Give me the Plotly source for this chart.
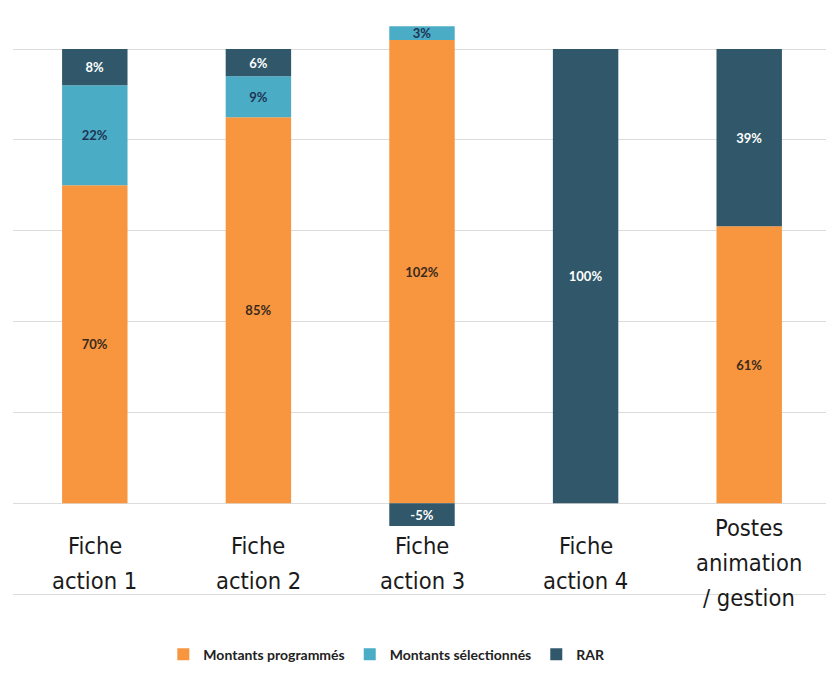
import plotly.graph_objects as go

categories = [["Fiche", "action 1"], ["Fiche", "action 2"], ["Fiche", "action 3"],
              ["Fiche", "action 4"], ["Postes", "animation", "/ gestion"]]
programmes = [70, 85, 102, 0, 61]
selectionnes = [22, 9, 3, 0, 0]
rar = [8, 6, -5, 100, 39]
gridvals = [-20, 0, 20, 40, 60, 80, 100]

series = [
    ("Montants programmés", programmes, "#F7963F", "#3a2a1e"),
    ("Montants sélectionnés", selectionnes, "#4BACC6", "#1e3552"),
    ("RAR", rar, "#30586A", "#ffffff"),
]

fig = go.Figure()
for name, vals, color, tcolor in series:
    fig.add_trace(go.Bar(
        x=list(range(len(categories))), y=vals, name=name,
        marker=dict(color=color, line=dict(width=0)),
        text=[f"{v}%" if v != 0 else "" for v in vals],
        textposition="inside", insidetextanchor="middle",
        textfont=dict(family="Lato, sans-serif", size=13, color=tcolor, weight="bold"),
        width=0.40,
    ))

line_px = 35      # pixels between label lines
center_px = 60    # label block centre below the zero line, pixels
for i, lines in enumerate(categories):
    n = len(lines)
    for j, ln in enumerate(lines):
        fig.add_annotation(
            x=i, y=0, xref="x", yref="y",
            yshift=-(center_px + (j - (n - 1) / 2) * line_px),
            text=ln, showarrow=False, yanchor="middle", xanchor="center",
            font=dict(family="DejaVu Sans Condensed, sans-serif", size=23.5, color="#1a1a1a"),
        )

fig.update_layout(
    barmode="relative",
    width=834, height=699,
    margin=dict(l=5, r=11, t=0, b=110),
    plot_bgcolor="white", paper_bgcolor="white",
    showlegend=True,
    legend=dict(orientation="h", x=0.457, xanchor="center", y=-0.098, yanchor="middle",
                font=dict(family="Lato, sans-serif", size=14, color="#222222", weight="bold"),
                itemwidth=30, traceorder="normal"),
    uniformtext=dict(minsize=13, mode="show"),
)
fig.update_xaxes(range=[-0.5, 4.5], showticklabels=False, showgrid=False, zeroline=False, showline=False)
fig.update_yaxes(range=[-20.66, 109.03], tickvals=gridvals, showticklabels=False,
                 showgrid=True, gridcolor="#dcdcdc", gridwidth=1,
                 zeroline=True, zerolinecolor="#dcdcdc", zerolinewidth=1, showline=False)

fig.write_html("out.html")
